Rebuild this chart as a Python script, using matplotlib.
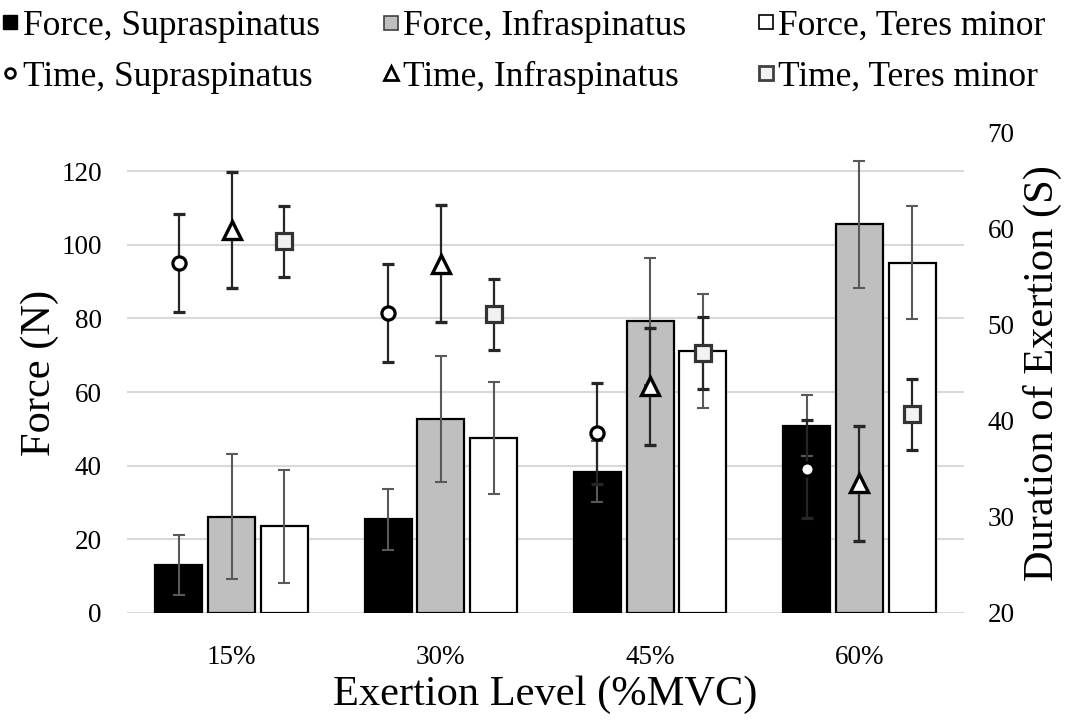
import matplotlib.pyplot as plt
import numpy as np
from matplotlib.lines import Line2D

plt.rcParams['font.family'] = ['Liberation Serif', 'DejaVu Serif']

levels = ['15%', '30%', '45%', '60%']

# mean force (N) and SD per muscle
force_sup = [13.0, 25.5, 38.4, 50.9]
force_inf = [26.2, 52.7, 79.2, 105.6]
force_ter = [23.5, 47.5, 71.2, 95.2]
force_sup_sd = [8.2, 8.3, 8.3, 8.2]
force_inf_sd = [17.0, 17.0, 17.2, 17.2]
force_ter_sd = [15.4, 15.3, 15.4, 15.4]

# mean duration of exertion (s) and SD per muscle
time_sup = [56.5, 51.2, 38.7, 35.0]
time_inf = [59.9, 56.4, 43.6, 33.5]
time_ter = [58.7, 51.1, 47.1, 40.7]
time_sup_sd = [5.1, 5.1, 5.3, 5.1]
time_inf_sd = [6.0, 6.1, 6.1, 6.0]
time_ter_sd = [3.7, 3.7, 3.75, 3.7]


def main():
    x = np.arange(len(levels))
    w = 0.225
    off = 0.252

    fig = plt.figure(figsize=(10.75, 7.25), dpi=100)
    ax = fig.add_axes([0.1181, 0.1545, 0.7786, 0.6621])
    ax2 = ax.twinx()

    # force bars
    bar_specs = [
        (force_sup, force_sup_sd, 'black', -off),
        (force_inf, force_inf_sd, '#bfbfbf', 0),
        (force_ter, force_ter_sd, 'white', off),
    ]
    for vals, sd, col, dx in bar_specs:
        ax.bar(x + dx, vals, w, color=col, edgecolor='black', linewidth=1.6, zorder=2)
        ax.errorbar(x + dx, vals, yerr=sd, fmt='none', ecolor='#595959',
                    elinewidth=1.5, capsize=4.5, capthick=1.5, zorder=3)

    # time markers on the secondary axis
    ekw = dict(ecolor='#262626', elinewidth=1.6, capsize=4.5, capthick=1.6, linestyle='none')
    ax2.errorbar(x - off, time_sup, yerr=time_sup_sd, marker='o', ms=9.5,
                 mfc='white', mec='black', mew=2.3, **ekw)
    ax2.errorbar(x, time_inf, yerr=time_inf_sd, marker='^', ms=13,
                 mfc='white', mec='black', mew=2.4, **ekw)
    ax2.errorbar(x + off, time_ter, yerr=time_ter_sd, marker='s', ms=11,
                 mfc='#f2f2f2', mec='#333333', mew=2.3, **ekw)

    ax.set_xlim(-0.5, 3.5)
    ax.set_ylim(0, 130.4)
    ax.set_yticks(np.arange(0, 121, 20))
    ax2.set_ylim(20, 70)
    ax2.set_yticks(np.arange(20, 71, 10))
    ax.set_xticks(x)
    ax.set_xticklabels(levels)

    ax.yaxis.grid(True, color='#d9d9d9', linewidth=1.5, zorder=0)
    ax.set_axisbelow(True)
    for a in (ax, ax2):
        for s in a.spines.values():
            s.set_visible(False)
        a.tick_params(length=0, labelsize=19.5)
    ax.tick_params(axis='y', pad=18)
    ax2.tick_params(axis='y', pad=17)
    ax.tick_params(axis='x', pad=23)

    ax.set_xlabel('Exertion Level (%MVC)', fontsize=30.5, labelpad=4)
    ax.set_ylabel('Force (N)', fontsize=30.5, labelpad=2)
    ax2.set_ylabel('Duration of Exertion (S)', fontsize=30.5, labelpad=6)

    # legend, one column per muscle
    cols = [
        (Line2D([], [], ls='none', marker='s', ms=10, mfc='black', mec='black'),
         'Force, Supraspinatus',
         Line2D([], [], ls='none', marker='o', ms=7, mfc='white', mec='black', mew=2),
         'Time, Supraspinatus', -0.012),
        (Line2D([], [], ls='none', marker='s', ms=10, mfc='#bfbfbf', mec='#404040', mew=1.2),
         'Force, Infraspinatus',
         Line2D([], [], ls='none', marker='^', ms=10, mfc='white', mec='black', mew=2),
         'Time, Infraspinatus', 0.342),
        (Line2D([], [], ls='none', marker='s', ms=10, mfc='white', mec='black', mew=1.2),
         'Force, Teres minor',
         Line2D([], [], ls='none', marker='s', ms=10, mfc='#f2f2f2', mec='#404040', mew=2),
         'Time, Teres minor', 0.691),
    ]
    for h1, l1, h2, l2, xpos in cols:
        fig.legend([h1, h2], [l1, l2], loc='upper left', bbox_to_anchor=(xpos, 1.006),
                   frameon=False, fontsize=25.5, handlelength=0.5, handletextpad=0.1,
                   labelspacing=0.5, borderaxespad=0)

    fig.savefig('out.png', dpi=100)


if __name__ == "__main__":
    main()
